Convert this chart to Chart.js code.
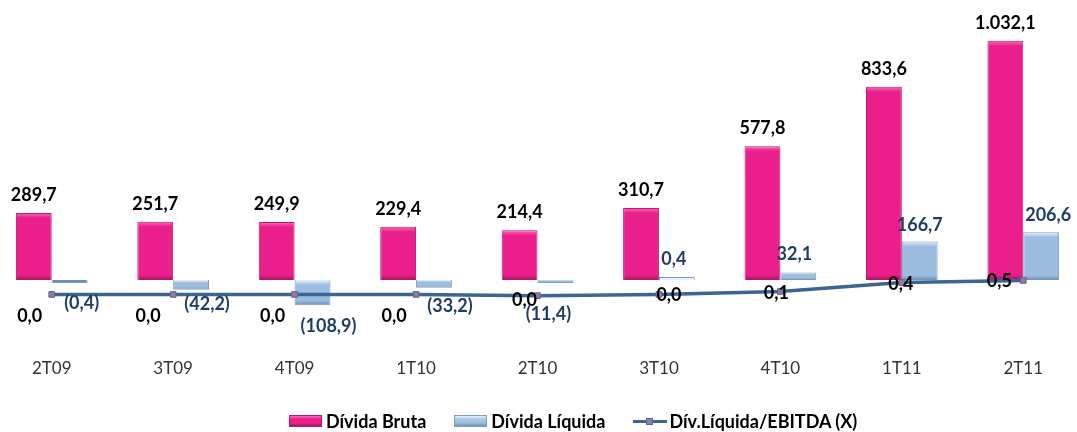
<!DOCTYPE html>
<html lang="pt-BR">
<head>
<meta charset="utf-8">
<title>Endividamento</title>
<script src="https://cdn.jsdelivr.net/npm/chart.js@4.4.1/dist/chart.umd.min.js"></script>
<style>
  html, body { margin: 0; padding: 0; background: #fff; overflow: hidden; }
  body { width: 1077px; height: 432px; position: relative; font-family: Lato, "Noto Sans", sans-serif; }
  #wrap { position: absolute; left: -14px; top: 0; width: 1103px; height: 432px; }
  #legenda { position: absolute; left: 289px; top: 412px; display: flex; align-items: center; gap: 28px;
             font-weight: bold; font-size: 18px; color: #000; line-height: 18px; }
  .item { display: flex; align-items: center; }
  .caixa { width: 33px; height: 12px; margin-right: 4px; box-sizing: border-box; }
  .rosa { background: linear-gradient(#f76cbc, #ea1f8b 30%, #ea1f8b 70%, #a3145f); border: 1px solid #b8196f; }
  .azul { background: linear-gradient(#e6f3fc, #a9c7e6 30%, #9dbde0 70%, #6e8fb5); border: 1px solid #7f9cc0; }
  .linha { width: 34px; height: 12px; margin-right: 2px; position: relative; }
  .linha::before { content: ""; position: absolute; left: 0; right: 0; top: 5px; height: 3px; background: #3b6593; }
  .linha::after { content: ""; position: absolute; left: 13px; top: 3px; width: 7px; height: 7px; background: #8c7fa6; border: 1px solid #6b5f86; box-sizing: border-box; }
</style>
</head>
<body>
<div id="wrap"><canvas id="grafico"></canvas></div>
<div id="legenda">
  <div class="item"><span class="caixa rosa"></span>Dívida Bruta</div>
  <div class="item"><span class="caixa azul"></span>Dívida Líquida</div>
  <div class="item"><span class="linha"></span>Dív.Líquida/EBITDA (X)</div>
</div>
<script>
const categorias = ["2T09", "3T09", "4T09", "1T10", "2T10", "3T10", "4T10", "1T11", "2T11"];
const dividaBruta = [289.7, 251.7, 249.9, 229.4, 214.4, 310.7, 577.8, 833.6, 1032.1];
const dividaLiquida = [-0.4, -42.2, -108.9, -33.2, -11.4, 0.4, 32.1, 166.7, 206.6];
const divEbitda = [0.0, 0.0, 0.0, 0.0, -0.04, 0.0, 0.1, 0.4, 0.47];

// deslocamento dos rótulos (como no Excel original)
const offLiquida = [[12, 20], [16, 14], [16, 21], [16, 18], [-7, 31], [-3, -18], [-4, -18], [0, -16], [7, -17]];
const offEbitda = [[-22, 22], [-25, 22], [-22, 22], [-22, 22], [-13, 5], [10, 1], [-4, 2], [-1, 2], [-24, 1]];

function fmt(v) {
  return v.toLocaleString('pt-BR', { minimumFractionDigits: 1, maximumFractionDigits: 1 });
}

function bevel(cores) {
  return (c) => {
    const chart = c.chart;
    if (!chart.chartArea || c.type !== 'data') return cores[1];
    const y = chart.scales.y;
    const a = y.getPixelForValue(0), b = y.getPixelForValue(c.raw);
    const top = Math.min(a, b), bot = Math.max(a, b);
    const h = Math.max(bot - top, 1);
    const e = Math.min(5 / h, 0.3);
    const g = chart.ctx.createLinearGradient(0, top, 0, bot);
    g.addColorStop(0, cores[0]);
    g.addColorStop(e, cores[1]);
    g.addColorStop(1 - e, cores[1]);
    g.addColorStop(1, cores[2]);
    return g;
  };
}

const rotulos = {
  id: 'rotulos',
  afterDatasetsDraw(chart) {
    const ctx = chart.ctx;
    ctx.save();
    ctx.font = 'bold 18px Lato';
    ctx.textAlign = 'center';
    ctx.textBaseline = 'middle';

    ctx.fillStyle = '#000';
    chart.getDatasetMeta(0).data.forEach((el, i) => {
      ctx.fillText(fmt(dividaBruta[i]), el.x, el.y - 18);
    });

    ctx.fillStyle = '#1f3d66';
    chart.getDatasetMeta(1).data.forEach((el, i) => {
      const v = dividaLiquida[i];
      const t = v < 0 ? '(' + fmt(-v) + ')' : fmt(v);
      ctx.fillText(t, el.x + offLiquida[i][0], el.y + offLiquida[i][1]);
    });

    ctx.fillStyle = '#000';
    chart.getDatasetMeta(2).data.forEach((el, i) => {
      const v = Math.abs(divEbitda[i]) < 0.05 ? 0 : divEbitda[i];
      ctx.fillText(fmt(v), el.x + offEbitda[i][0], el.y + offEbitda[i][1]);
    });
    ctx.restore();
  }
};

new Chart(document.getElementById('grafico'), {
  type: 'bar',
  data: {
    labels: categorias,
    datasets: [
      {
        label: 'Dívida Bruta',
        data: dividaBruta,
        backgroundColor: bevel(['#f76cbc', '#ea1f8b', '#a3145f']),
        borderColor: '#b8196f',
        borderWidth: 1,
        categoryPercentage: 0.59,
        barPercentage: 1.0,
        order: 1
      },
      {
        label: 'Dívida Líquida',
        data: dividaLiquida,
        backgroundColor: bevel(['#e6f3fc', '#9dbde0', '#6e8fb5']),
        borderColor: '#7f9cc0',
        borderWidth: 1,
        minBarLength: 3,
        categoryPercentage: 0.59,
        barPercentage: 1.0,
        order: 1
      },
      {
        type: 'line',
        label: 'Dív.Líquida/EBITDA (X)',
        data: divEbitda,
        yAxisID: 'y1',
        borderColor: '#3b6593',
        borderWidth: 3.5,
        tension: 0,
        pointStyle: 'rect',
        pointRadius: 4,
        pointBackgroundColor: '#8c7fa6',
        pointBorderColor: '#6b5f86',
        pointBorderWidth: 1,
        order: 0
      }
    ]
  },
  options: {
    responsive: true,
    maintainAspectRatio: false,
    animation: false,
    layout: { padding: { top: 20, bottom: 32, left: 0, right: 0 } },
    plugins: {
      legend: { display: false },
      tooltip: { enabled: false }
    },
    scales: {
      x: {
        grid: { display: false, drawTicks: false },
        border: { display: false },
        ticks: { padding: 21, color: '#333', font: { family: 'Lato', size: 17 } }
      },
      y: { display: false, min: -248.4, max: 1122.1 },
      y1: { display: false, min: -1.45, max: 9.22 }
    }
  },
  plugins: [rotulos]
});
</script>
</body>
</html>
